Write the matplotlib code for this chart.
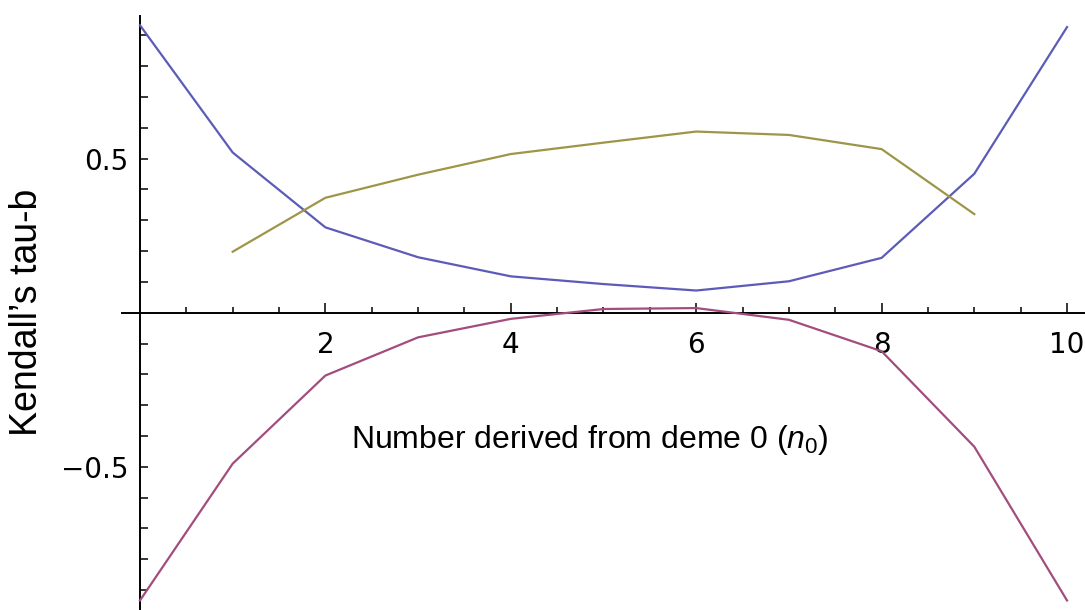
import numpy as np
import matplotlib
matplotlib.use("Agg")
import matplotlib.pyplot as plt
from matplotlib.ticker import FixedLocator

# values
n0_full = [0, 1, 2, 3, 4, 5, 6, 7, 8, 9, 10]
n0_inner = [1, 2, 3, 4, 5, 6, 7, 8, 9]
tau_blue = [0.933, 0.520, 0.277, 0.180, 0.118, 0.093, 0.072, 0.102, 0.178, 0.451, 0.927]
tau_olive = [0.198, 0.373, 0.448, 0.515, 0.552, 0.588, 0.577, 0.531, 0.320]
tau_pink = [-0.934, -0.490, -0.204, -0.080, -0.020, 0.012, 0.015, -0.023, -0.125, -0.435, -0.934]

x_major = [2, 4, 6, 8, 10]
y_major = [-0.5, 0.5]

plt.rcParams['mathtext.fontset'] = 'custom'
plt.rcParams['mathtext.rm'] = 'Liberation Sans'
plt.rcParams['mathtext.it'] = 'Liberation Sans:italic'

fig = plt.figure(figsize=(10.85, 6.1), dpi=100)
ax = fig.add_axes([0, 0, 1, 1])
ax.set_xlim(-1.51, 10.194)
ax.set_ylim(-0.965, 1.015)

# Mathematica style crossing axes
for side in ['top', 'right']:
    ax.spines[side].set_visible(False)
ax.spines['left'].set_position(('data', 0))
ax.spines['bottom'].set_position(('data', 0))
ax.spines['left'].set_bounds(-0.965, 0.963)
ax.spines['bottom'].set_bounds(-0.194, 10.194)
for side in ['left', 'bottom']:
    ax.spines[side].set_linewidth(1.4)

ax.plot(n0_full, tau_blue, color='#5c5cb8', lw=1.6, zorder=3)
ax.plot(n0_inner, tau_olive, color='#9f9548', lw=1.6, zorder=3)
ax.plot(n0_full, tau_pink, color='#a24d7e', lw=1.6, zorder=3)

# ticks
ax.set_xticks(x_major)
ax.xaxis.set_minor_locator(FixedLocator([v for v in np.arange(0.5, 10, 0.5) if v % 2 != 0]))
ax.set_yticks(y_major)
ax.yaxis.set_minor_locator(FixedLocator([v for v in np.round(np.arange(-0.9, 0.95, 0.1), 2) if v not in (0.0, -0.5, 0.5)]))

ax.tick_params(axis='x', which='major', direction='in', length=7, width=1.1, pad=13, labelsize=20)
ax.tick_params(axis='x', which='minor', direction='in', length=4, width=1.1)
ax.tick_params(axis='y', which='major', direction='in', length=6, width=1.1, pad=8.5, labelsize=20)
ax.tick_params(axis='y', which='minor', direction='in', length=5.5, width=1.1)

fig.text(27 / 1085, 1 - 312 / 610, 'Kendall\u2019s tau-b', rotation=90,
         ha='center', va='center', fontsize=27, family='Liberation Sans')
fig.text(590 / 1085, 1 - 440 / 610, r'Number derived from deme 0 ($n_{\mathit{0}}$)',
         ha='center', va='center', fontsize=23, family='Liberation Sans')

fig.savefig('out.png', dpi=100)
